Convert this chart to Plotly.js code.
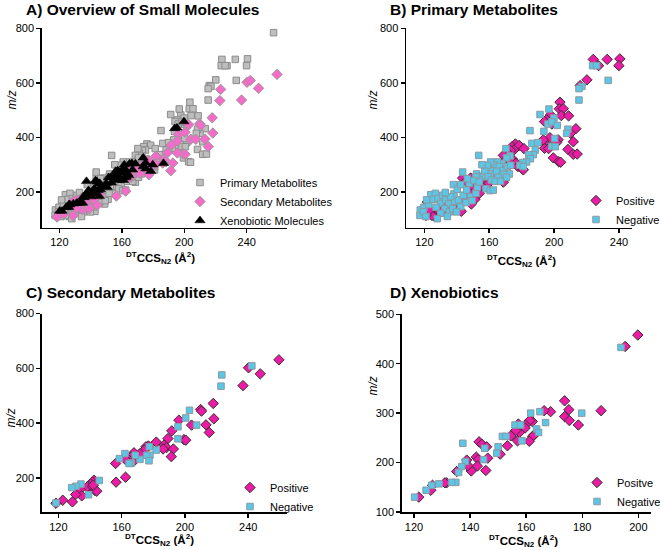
<!DOCTYPE html>
<html>
<head>
<meta charset="utf-8">
<script src="https://cdn.plot.ly/plotly-3.0.1.min.js"></script>
<style>
html,body{margin:0;padding:0;background:#fff;}
#chart{width:661px;height:550px;}
</style>
</head>
<body>
<div id="chart"></div>
<script>
// ---- Data (DTCCS_N2 in Å², m/z) ----
// Primary metabolites, positive mode
const primaryPosCCS = [224.1,232.7,240.5,239.9,227.4,220.2,216.0,203.6,203.2,205.6,204.4,208.9,197.8,195.4,194.1,213.4,210.1,211.8,197.4,202.5,201.5,193.7,194.1,208.5,199.5,202.8,204.0,211.8,214.2,198.6,193.3,196.6,
  176.1,174.0,178.5,175.2,181.4,173.2,171.1,168.7,170.3,172.8,174.4,176.5,177.7,180.2,181.0,159.6,168.7,164.0,166.5,162.0,
  148.5,151.0,153.1,155.1,151.4,149.4,153.9,155.9,153.5,151.2,149.0,143.6,145.7,147.3,146.5,144.4,142.0,142.8,140.3,138.3,136.2,134.2,132.1,132.9,130.5,128.0,126.4,124.7,121.0,123.1,121.8];
const primaryPosMZ = [686,686,688,663,663,611,590,529,505,505,480,479,482,464,458,432,415,384,399,391,381,378,360,356,325,311,309,338,339,449,391,359,
  376,366,371,354,359,352,344,334,317,315,320,305,293,286,281,232,236,258,290,300,
  251,244,232,221,217,207,195,249,256,173,156,251,239,200,183,171,158,129,144,136,146,163,156,127,134,119,110,114,114,134,163];
// Primary metabolites, negative mode
const primaryNegCCS = [257.2,223.7,226.2,233.3,217.1,215.3,215.3,196.8,199.9,196.2,198.6,191.3,201.9,208.5,207.7,193.7,200.3,198.6,200.7,185.1,
  186.3,190.0,188.4,187.1,184.3,185.4,183.0,180.6,178.9,181.0,
  170.3,172.8,170.7,167.8,165.0,163.3,166.2,161.7,160.9,158.8,164.6,168.7,171.1,173.2,172.4,168.7,165.4,160.5,156.3,157.2,159.3,161.3,163.7,167.0,170.7,158.0,160.5,162.5,155.5,152.2,153.9,151.8,
  153.5,143.6,137.9,117.5,117.3,119.8,122.7,123.9,126.8,125.5,128.4,130.1,127.2,131.3,133.3,135.0,132.5,135.4,130.1,134.2,137.5,138.7,141.1,142.4,139.9,144.0,146.1,147.7,148.5,151.8,152.6,145.7,149.4,121.4,119.4,138.3,136.2,132.9,140.3,142.4,146.5,150.6,153.9,128.0,121.0];
const primaryNegMZ = [784,663,663,609,587,579,537,504,471,449,457,484,444,430,415,422,396,367,366,425,
  378,381,354,337,337,322,310,308,298,293,
  359,332,325,305,310,298,293,278,310,298,276,278,293,298,266,264,254,266,256,276,256,244,239,239,254,212,205,207,300,266,244,256,
  334,273,227,134,114,144,154,190,195,173,176,158,144,188,171,156,139,127,122,110,139,166,171,146,127,188,207,232,183,195,217,161,168,171,127,193,183,198,210,227,249,242,237,102,110];
// Secondary metabolites
const secondaryPosCCS = [259.4,240.2,247.6,236.7,217.9,209.9,210.5,218.3,213.3,215.4,204.2,196.2,191.7,189.3,199.4,200.5,181.9,186.8,188.4,192.7,191.4,186.2,176.9,175.4,174.3,171.6,167.8,166.0,163.6,162.3,167.3,156.2,162.5,156.5,142.6,141.5,140.4,139.6,138.3,141.7,143.2,144.3,142.1,133.7,134.8,131.0,128.9,122.8,118.5];
const secondaryPosMZ = [631,602,580,537,472,450,444,416,394,366,393,411,372,344,340,338,331,320,311,306,278,306,317,314,302,289,292,277,271,268,259,253,203,185,192,186,178,168,168,168,154,152,174,158,135,140,113,119,108];
const secondaryNegCCS = [242.3,223.3,222.8,207.4,202.9,200.5,195.6,195.6,181.9,177.5,177.9,175.8,177.3,171.6,168.6,162.1,158.6,166.0,164.7,145.9,139.1,134.3,131.1,128.5,118.5];
const secondaryNegMZ = [609,576,535,393,447,419,387,343,302,314,283,283,263,268,283,289,271,255,253,191,139,178,170,165,109];
// Xenobiotics
const xenoPosCCS = [199.8,195.3,173.7,175.2,173.7,175.4,178.6,186.7,168.7,166.4,162.2,161.2,159.7,159.6,162.8,162.3,161.1,156.9,157.6,156.3,157.2,154.5,153.3,150.7,143.2,144.2,145.9,146.3,142.2,142.9,142.6,145.6,140.4,139.2,138.8,135.2,131.6,131.0,126.6,126.0,121.7];
const xenoPosMZ = [458,435,325,307,293,285,276,305,303,305,283,285,276,270,256,253,243,244,261,265,278,254,234,217,242,237,232,209,211,206,193,184,183,194,205,182,159,159,154,144,130];
const xenoNegCCS = [193.8,179.8,164.9,161.6,166.9,163.7,164.4,158.5,156.0,158.0,151.5,152.8,150.0,149.5,145.2,144.8,138.3,137.4,137.0,135.9,134.9,133.4,128.9,126.3,124.3,120.2];
const xenoNegMZ = [433,300,303,300,281,268,261,244,276,276,253,253,232,219,229,206,202,239,192,180,160,160,157,154,144,130];

// Tick values
const ccsTicks = [120,160,200,240];
const mzTicks = [200,400,600,800];
const xenoCcsTicks = [120,140,160,180,200];
const xenoMzTicks = [100,200,300,400,500];

const FONT = 'Liberation Sans, Arial, Helvetica, sans-serif';
const W = 661, H = 550;
const px = v => v / W;
const py = v => 1 - v / H;

const posMarker = {symbol:'diamond', size:8, color:'#EC1AA4', line:{color:'#333333', width:1}};
const negMarker = {symbol:'square', size:6.5, color:'#5CC6E6', line:{color:'#8A9AA2', width:1}};

const traces = [
  {x: primaryPosCCS.concat(primaryNegCCS), y: primaryPosMZ.concat(primaryNegMZ), name:'Primary Metabolites',
   xaxis:'x', yaxis:'y', legend:'legend',
   marker:{symbol:'square', size:6.5, color:'#BEBEBE', line:{color:'#8C8C8C', width:1}}},
  {x: secondaryPosCCS.concat(secondaryNegCCS), y: secondaryPosMZ.concat(secondaryNegMZ), name:'Secondary Metabolites',
   xaxis:'x', yaxis:'y', legend:'legend',
   marker:{symbol:'diamond', size:8, color:'#F46BC9', line:{color:'#9A9A9A', width:1}}},
  {x: xenoPosCCS.concat(xenoNegCCS), y: xenoPosMZ.concat(xenoNegMZ), name:'Xenobiotic Molecules',
   xaxis:'x', yaxis:'y', legend:'legend',
   marker:{symbol:'triangle-up', size:9, color:'#000000', line:{color:'#000000', width:0.5}}},

  {x: primaryPosCCS, y: primaryPosMZ, name:'Positive', xaxis:'x2', yaxis:'y2', legend:'legend2', marker:posMarker},
  {x: primaryNegCCS, y: primaryNegMZ, name:'Negative', xaxis:'x2', yaxis:'y2', legend:'legend2', marker:negMarker},

  {x: secondaryPosCCS, y: secondaryPosMZ, name:'Positive', xaxis:'x3', yaxis:'y3', legend:'legend3', marker:posMarker},
  {x: secondaryNegCCS, y: secondaryNegMZ, name:'Negative', xaxis:'x3', yaxis:'y3', legend:'legend3', marker:negMarker},

  {x: xenoPosCCS, y: xenoPosMZ, name:'Positve', xaxis:'x4', yaxis:'y4', legend:'legend4', marker:posMarker},
  {x: xenoNegCCS, y: xenoNegMZ, name:'Negative', xaxis:'x4', yaxis:'y4', legend:'legend4', marker:negMarker}
].map(t => Object.assign({type:'scatter', mode:'markers', cliponaxis:false, hoverinfo:'x+y'}, t));

function axis(extra){
  return Object.assign({
    showline:true, linecolor:'#000', linewidth:1.5, mirror:false,
    ticks:'outside', ticklen:4, tickwidth:1.5, tickcolor:'#000',
    showgrid:false, zeroline:false, tickmode:'array',
    tickfont:{family:FONT, size:11, color:'#000'}, fixedrange:true
  }, extra);
}

const xTitle = '<b><sup>DT</sup>CCS<sub>N2</sub> (Å<sup>2</sup>)</b>';
function ann(text, x, y, opts){
  return Object.assign({text:text, x:x, y:y, xref:'paper', yref:'paper', showarrow:false,
    font:{family:FONT, size:12, color:'#000'}}, opts||{});
}
const titleFont = {family:FONT, size:15.5, color:'#000'};
const xTitleFont = {family:FONT, size:11.5, color:'#000'};

const legendBase = {bgcolor:'rgba(0,0,0,0)', borderwidth:0, font:{family:FONT, size:11, color:'#000'},
  xanchor:'left', yanchor:'top', itemwidth:30, tracegroupgap:0};

const layout = {
  width:W, height:H,
  margin:{l:0, r:0, t:0, b:0, pad:0, autoexpand:false},
  paper_bgcolor:'#fff', plot_bgcolor:'rgba(0,0,0,0)',
  showlegend:true,
  font:{family:FONT, color:'#000'},
  xaxis: axis({domain:[px(41.7), px(287)], range:[108.7,265.8], tickvals:ccsTicks, anchor:'y'}),
  yaxis: axis({domain:[py(227.7), py(28.3)], range:[69,800], tickvals:mzTicks, anchor:'x'}),
  xaxis2: axis({domain:[px(406), px(631.7)], range:[108.7,247.8], tickvals:ccsTicks, anchor:'y2'}),
  yaxis2: axis({domain:[py(227.7), py(28.3)], range:[69,800], tickvals:mzTicks, anchor:'x2'}),
  xaxis3: axis({domain:[px(41.7), px(287.3)], range:[109.5,264.7], tickvals:ccsTicks, anchor:'y3'}),
  yaxis3: axis({domain:[py(512.3), py(313.5)], range:[75,800], tickvals:mzTicks, anchor:'x3'}),
  xaxis4: axis({domain:[px(401.7), px(650.7)], range:[115.6,204.4], tickvals:xenoCcsTicks, anchor:'y4'}),
  yaxis4: axis({domain:[py(512), py(314.3)], range:[100,500], tickvals:xenoMzTicks, anchor:'x4'}),
  legend: Object.assign({}, legendBase, {x:px(180), y:py(168)}),
  legend2: Object.assign({}, legendBase, {x:px(576), y:py(186)}),
  legend3: Object.assign({}, legendBase, {x:px(230), y:py(473)}),
  legend4: Object.assign({}, legendBase, {x:px(577), y:py(468)}),
  annotations: [
    ann('<b>A) Overview of Small Molecules</b>', px(24), py(9.5), {xanchor:'left', yanchor:'middle', font:titleFont}),
    ann('<b>B) Primary Metabolites</b>', px(388), py(9.5), {xanchor:'left', yanchor:'middle', font:titleFont}),
    ann('<b>C) Secondary Metabolites</b>', px(24), py(292), {xanchor:'left', yanchor:'middle', font:titleFont}),
    ann('<b>D) Xenobiotics</b>', px(388), py(292), {xanchor:'left', yanchor:'middle', font:titleFont}),
    ann(xTitle, px(160.5), py(258), {xanchor:'center', yanchor:'middle', font:xTitleFont}),
    ann(xTitle, px(521.7), py(261), {xanchor:'center', yanchor:'middle', font:xTitleFont}),
    ann(xTitle, px(159), py(540), {xanchor:'center', yanchor:'middle', font:xTitleFont}),
    ann(xTitle, px(523), py(540.5), {xanchor:'center', yanchor:'middle', font:xTitleFont}),
    ann('<i>m/z</i>', px(11.5), py(100), {xanchor:'center', yanchor:'middle', textangle:-90}),
    ann('<i>m/z</i>', px(372.5), py(100), {xanchor:'center', yanchor:'middle', textangle:-90}),
    ann('<i>m/z</i>', px(10.5), py(418), {xanchor:'center', yanchor:'middle', textangle:-90}),
    ann('<i>m/z</i>', px(372.5), py(386), {xanchor:'center', yanchor:'middle', textangle:-90})
  ]
};

Plotly.newPlot('chart', traces, layout, {displayModeBar:false, staticPlot:true});
</script>
</body>
</html>
